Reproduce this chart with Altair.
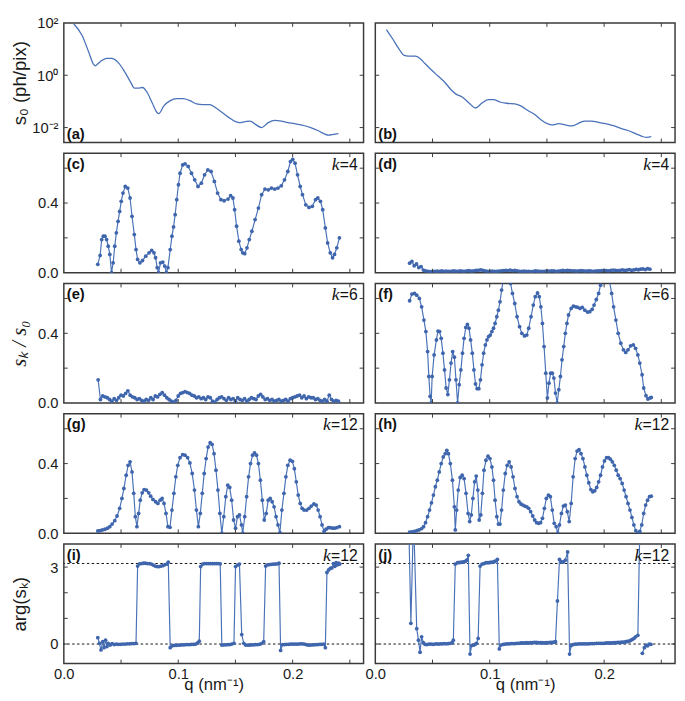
import altair as alt
import pandas as pd

# ---------------- data ----------------
# row 1: s0 (ph/pix), smooth curves
q_a = [0.0088,0.0160,0.0217,0.0260,0.0274,0.0317,0.0374,0.0417,0.0474,0.0531,0.0588,0.0616,0.0645,0.0688,0.0731,0.0773,0.0816,0.0830,0.0873,0.0930,0.0987,0.1045,0.1102,0.1159,0.1216,0.1273,0.1330,0.1387,0.1444,0.1501,0.1535,0.1587,0.1630,0.1672,0.1729,0.1787,0.1844,0.1901,0.1958,0.2015,0.2072,0.2158,0.2215,0.2272,0.2315,0.2357,0.2400]
s0_a = [91,33,7.8,2.6,2.3,3.3,4.4,4.4,3.1,1.38,0.50,0.32,0.32,0.34,0.21,0.087,0.037,0.034,0.066,0.107,0.129,0.129,0.107,0.081,0.076,0.076,0.056,0.037,0.024,0.017,0.0155,0.017,0.0178,0.0135,0.0100,0.0155,0.019,0.0178,0.0155,0.0141,0.0126,0.0100,0.0079,0.0059,0.0051,0.0055,0.0059]

q_b = [0.0097,0.0148,0.0205,0.0248,0.0291,0.0348,0.0391,0.0434,0.0491,0.0548,0.0605,0.0662,0.0705,0.0762,0.0819,0.0876,0.0933,0.0990,0.1033,0.1090,0.1147,0.1219,0.1276,0.1333,0.1390,0.1447,0.1504,0.1547,0.1604,0.1661,0.1718,0.1775,0.1832,0.1889,0.1961,0.2032,0.2089,0.2146,0.2203,0.2275,0.2332,0.2374,0.2412]
s0_b = [56,26,10.5,5.9,5.4,5.4,4.4,2.8,1.58,0.93,0.55,0.28,0.19,0.145,0.087,0.056,0.087,0.117,0.117,0.095,0.085,0.081,0.066,0.045,0.032,0.020,0.0141,0.0126,0.0141,0.0126,0.0115,0.0145,0.0178,0.0178,0.0155,0.0135,0.0115,0.0093,0.0079,0.0059,0.0046,0.0042,0.0045]

# rows 2-4: |s_k| / s0
q_c = [0.0297,0.0317,0.0331,0.0345,0.0360,0.0374,0.0388,0.0402,0.0417,0.0431,
       0.0445,0.0459,0.0474,0.0488,0.0502,0.0517,0.0537,0.0559,0.0579,0.0596,
       0.0616,0.0631,0.0645,0.0665,0.0688,0.0716,0.0745,0.0768,0.0788,0.0802,
       0.0816,0.0828,0.0845,0.0865,0.0882,0.0896,0.0910,0.0930,0.0945,0.0959,
       0.0973,0.0987,0.1002,0.1016,0.1039,0.1059,0.1087,0.1116,0.1144,0.1173,
       0.1202,0.1230,0.1259,0.1287,0.1316,0.1344,0.1373,0.1401,0.1435,0.1458,
       0.1478,0.1493,0.1510,0.1530,0.1550,0.1564,0.1581,0.1601,0.1621,0.1644,
       0.1672,0.1701,0.1729,0.1758,0.1787,0.1815,0.1844,0.1872,0.1901,0.1929,
       0.1958,0.1981,0.2001,0.2021,0.2043,0.2066,0.2086,0.2115,0.2143,0.2172,
       0.2200,0.2220,0.2243,0.2263,0.2286,0.2306,0.2329,0.2349,0.2366,0.2386,
       0.2409]
r_c = [.048,.099,.19,.21,.21,.19,.152,.105,0.0,.057,
       .152,.229,.295,.352,.41,.457,.495,.486,.429,.324,
       .219,.133,.076,.057,.070,.095,.114,.128,.114,.086,
       .029,0.0,.057,.061,.038,0.0,.029,.133,.21,.263,
       .333,.419,.505,.571,.619,.625,.61,.571,.533,.495,
       .514,.562,.59,.581,.524,.457,.419,.413,.423,.442,
       .429,.362,.267,.181,.133,.114,.109,.143,.19,.238,
       .305,.371,.448,.48,.476,.486,.48,.486,.499,.533,
       .581,.638,.651,.629,.562,.495,.448,.39,.375,.381,
       .419,.429,.41,.362,.257,.171,.114,.086,.105,.143,
       .2]

Q_GRID = [0.030,0.032,0.034,0.036,0.038,0.040,0.042,0.044,0.046,0.048,
          0.050,0.052,0.054,0.056,0.058,0.060,0.062,0.064,0.066,0.068,
          0.070,0.072,0.074,0.076,0.078,0.080,0.082,0.084,0.086,0.088,
          0.090,0.092,0.094,0.096,0.098,0.100,0.102,0.104,0.106,0.108,
          0.110,0.112,0.114,0.116,0.118,0.120,0.122,0.124,0.126,0.128,
          0.130,0.132,0.134,0.136,0.138,0.140,0.142,0.144,0.146,0.148,
          0.150,0.152,0.154,0.156,0.158,0.160,0.162,0.164,0.166,0.168,
          0.170,0.172,0.174,0.176,0.178,0.180,0.182,0.184,0.186,0.188,
          0.190,0.192,0.194,0.196,0.198,0.200,0.202,0.204,0.206,0.208,
          0.210,0.212,0.214,0.216,0.218,0.220,0.222,0.224,0.226,0.228,
          0.230,0.232,0.234,0.236,0.238,0.240]
r_d = [.055,.065,.04,.05,.03,.035,.015,.01,.008,.006,
       .008,.007,.009,.008,.01,.008,.009,.007,.008,.01,
       .009,.008,.011,.009,.008,.01,.012,.009,.011,.013,
       .014,.016,.013,.01,.008,.007,.009,.008,.007,.009,
       .011,.012,.014,.012,.015,.011,.013,.01,.008,.007,
       .009,.008,.007,.006,.008,.01,.009,.008,.007,.008,
       .01,.009,.011,.01,.008,.009,.011,.013,.011,.014,
       .012,.01,.011,.009,.01,.012,.01,.009,.011,.01,
       .008,.009,.011,.01,.012,.014,.012,.011,.013,.015,
       .013,.012,.014,.016,.013,.015,.018,.014,.016,.019,
       .017,.02,.022,.018,.024,.02]
r_e = [.133,.02,.04,.035,.03,.02,.01,.025,.015,.03,
       .045,.04,.055,.07,.045,.035,.03,.02,.025,.015,
       .01,.02,.015,.03,.02,.04,.035,.05,.06,.045,
       .03,.02,.01,.005,.015,.04,.055,.06,.065,.06,
       .055,.045,.04,.03,.035,.025,.03,.02,.035,.03,
       .01,.005,.02,.03,.035,.025,.015,.03,.02,.025,
       .01,.03,.02,.015,.025,.01,.02,.03,.025,.02,
       .04,.05,.035,.02,.025,.015,.02,.01,.015,.02,
       .01,.015,.02,.01,.025,.03,.035,.04,.045,.03,
       .04,.025,.035,.03,.03,.02,.025,.015,.01,.02,
       .01,.045,.02,.01,.015,.01]

q_f = [0.0300,0.0320,0.0342,0.0362,0.0385,0.0405,0.0425,0.0442,0.0457,0.0468,
       0.0479,0.0488,0.0497,0.0514,0.0534,0.0548,0.0562,0.0576,0.0591,0.0605,
       0.0619,0.0634,0.0648,0.0662,0.0676,0.0691,0.0705,0.0719,0.0733,0.0748,
       0.0762,0.0776,0.0791,0.0805,0.0819,0.0833,0.0848,0.0862,0.0876,0.0890,
       0.0905,0.0919,0.0933,0.0947,0.0962,0.0976,0.0990,0.1005,0.1019,0.1033,
       0.1047,0.1062,0.1076,0.1090,0.1104,0.1119,0.1139,0.1162,0.1182,0.1199,
       0.1219,0.1239,0.1261,0.1281,0.1304,0.1324,0.1341,0.1361,0.1381,0.1398,
       0.1418,0.1433,0.1447,0.1461,0.1475,0.1490,0.1504,0.1518,0.1533,0.1547,
       0.1561,0.1575,0.1590,0.1604,0.1618,0.1632,0.1647,0.1661,0.1675,0.1689,
       0.1712,0.1732,0.1752,0.1769,0.1789,0.1809,0.1832,0.1855,0.1875,0.1895,
       0.1912,0.1932,0.1952,0.1969,0.1983,0.2003,0.2032,0.2046,0.2066,0.2083,
       0.2103,0.2123,0.2146,0.2169,0.2189,0.2209,0.2232,0.2255,0.2275,0.2295,
       0.2312,0.2332,0.2346,0.2366,0.2383,0.2403,0.2412]
r_f = [.587,.625,.629,.619,.60,.552,.476,.41,.295,.152,
       .038,0.0,.152,.276,.362,.413,.41,.371,.286,.19,
       .086,.048,.133,.229,.295,.263,.133,0.0,.105,.19,
       .286,.371,.434,.451,.429,.362,.286,.19,.109,.082,
       .082,.133,.219,.286,.333,.362,.381,.39,.41,.429,
       .457,.495,.533,.581,.648,.705,.76,.76,.686,.629,
       .571,.495,.438,.40,.385,.39,.429,.495,.562,.61,
       .632,.61,.552,.457,.324,.171,.029,.114,.171,.171,
       .143,.057,0.0,.076,.152,.248,.324,.40,.457,.505,
       .543,.556,.552,.549,.543,.549,.533,.522,.524,.537,
       .562,.594,.629,.676,.714,.76,.752,.705,.629,.552,
       .476,.40,.343,.305,.29,.305,.328,.333,.314,.276,
       .229,.162,.086,.042,.023,.029,.032]

q_g = [0.0297,0.0317,0.0337,0.0360,0.0382,0.0402,0.0422,0.0445,0.0465,0.0488,
       0.0508,0.0525,0.0545,0.0562,0.0579,0.0596,0.0611,0.0625,0.0639,0.0654,
       0.0668,0.0685,0.0702,0.0722,0.0742,0.0759,0.0779,0.0802,0.0822,0.0842,
       0.0859,0.0876,0.0893,0.0910,0.0928,0.0945,0.0962,0.0979,0.0996,0.1016,
       0.1039,0.1059,0.1082,0.1102,0.1122,0.1142,0.1159,0.1176,0.1193,0.1210,
       0.1227,0.1244,0.1261,0.1279,0.1296,0.1313,0.1330,0.1347,0.1364,0.1381,
       0.1398,0.1416,0.1433,0.1450,0.1467,0.1484,0.1501,0.1518,0.1535,0.1553,
       0.1564,0.1581,0.1598,0.1615,0.1632,0.1650,0.1667,0.1684,0.1701,0.1718,
       0.1735,0.1752,0.1769,0.1787,0.1804,0.1821,0.1838,0.1855,0.1872,0.1889,
       0.1906,0.1924,0.1941,0.1958,0.1978,0.1998,0.2015,0.2032,0.2049,0.2066,
       0.2083,0.2100,0.2123,0.2143,0.2163,0.2186,0.2206,0.2223,0.2240,0.2257,
       0.2275,0.2292,0.2312,0.2329,0.2349,0.2366,0.2386,0.2409]
r_g = [.013,.015,.019,.023,.029,.038,.053,.072,.099,.143,
       .20,.257,.333,.39,.41,.352,.229,.095,.038,.114,
       .19,.232,.251,.248,.232,.213,.194,.181,.171,.19,
       .20,.171,.114,.038,.034,.133,.229,.324,.39,.434,
       .451,.448,.434,.404,.343,.248,.133,.038,.114,.229,
       .343,.429,.495,.52,.51,.457,.362,.248,.114,0.0,
       .095,.21,.276,.263,.19,.076,.029,.095,.105,.048,
       0.0,.095,.21,.324,.40,.448,.461,.448,.40,.305,
       .19,.076,.114,.19,.20,.181,.152,.095,.048,.004,
       .133,.229,.324,.39,.419,.413,.371,.295,.219,.171,
       .143,.133,.133,.143,.156,.168,.162,.133,.095,.048,
       .01,.023,.032,.032,.029,.029,.032,.038]

q_h = [0.0300,0.0320,0.0340,0.0362,0.0382,0.0405,0.0422,0.0439,0.0457,0.0474,
       0.0491,0.0508,0.0525,0.0542,0.0559,0.0576,0.0594,0.0611,0.0625,0.0639,
       0.0656,0.0674,0.0691,0.0699,0.0711,0.0725,0.0742,0.0759,0.0776,0.0793,
       0.0811,0.0825,0.0839,0.0853,0.0868,0.0882,0.0896,0.0908,0.0922,0.0936,
       0.0950,0.0967,0.0985,0.1002,0.1019,0.1033,0.1047,0.1062,0.1076,0.1090,
       0.1104,0.1119,0.1136,0.1153,0.1170,0.1187,0.1204,0.1221,0.1239,0.1256,
       0.1273,0.1290,0.1307,0.1324,0.1341,0.1358,0.1376,0.1393,0.1410,0.1427,
       0.1444,0.1461,0.1478,0.1495,0.1513,0.1530,0.1547,0.1564,0.1581,0.1595,
       0.1610,0.1627,0.1644,0.1661,0.1678,0.1695,0.1712,0.1729,0.1747,0.1764,
       0.1781,0.1798,0.1815,0.1832,0.1849,0.1866,0.1884,0.1901,0.1918,0.1935,
       0.1952,0.1969,0.1986,0.2003,0.2021,0.2038,0.2055,0.2072,0.2089,0.2106,
       0.2123,0.2140,0.2158,0.2175,0.2192,0.2209,0.2226,0.2243,0.2260,0.2277,
       0.2295,0.2312,0.2329,0.2346,0.2363,0.2380,0.2397,0.2412]
r_h = [.006,.008,.01,.015,.019,.027,.038,.061,.095,.133,
       .175,.219,.267,.305,.352,.40,.438,.457,.476,.457,
       .40,.305,.152,.019,.133,.248,.32,.333,.314,.229,
       .114,.067,.105,.20,.295,.328,.248,.076,.105,.229,
       .362,.419,.442,.429,.381,.305,.19,.095,.053,.053,
       .133,.248,.343,.39,.41,.381,.324,.257,.21,.181,
       .168,.162,.156,.152,.143,.124,.099,.076,.061,.057,
       .061,.086,.143,.20,.219,.21,.133,.057,.038,0.0,
       .048,.114,.156,.162,.124,.067,.171,.324,.429,.472,
       .48,.457,.429,.381,.333,.29,.251,.238,.244,.263,
       .295,.333,.381,.415,.434,.434,.425,.41,.39,.362,
       .333,.314,.286,.248,.21,.171,.133,.091,.048,.015,
       0.0,.01,.048,.114,.162,.19,.21,.213]

# row 5: arg(s_k)
q_i = [0.0297,0.0311,0.0325,0.0340,0.0351,0.0365,0.0377,0.0388,0.0405,0.0422,
       0.0440,0.0457,0.0474,0.0494,0.0514,0.0534,0.0554,0.0574,0.0594,0.0614,
       0.0631,0.0645,0.0662,0.0679,0.0696,0.0713,0.0731,0.0748,0.0765,0.0782,
       0.0799,0.0816,0.0833,0.0850,0.0868,0.0885,0.0902,0.0913,0.0930,0.0948,
       0.0965,0.0982,0.0999,0.1016,0.1033,0.1050,0.1067,0.1085,0.1102,0.1119,
       0.1136,0.1153,0.1170,0.1184,0.1196,0.1213,0.1230,0.1247,0.1264,0.1281,
       0.1299,0.1316,0.1333,0.1350,0.1367,0.1381,0.1398,0.1416,0.1433,0.1450,
       0.1467,0.1487,0.1501,0.1518,0.1535,0.1555,0.1573,0.1590,0.1607,0.1624,
       0.1641,0.1658,0.1675,0.1692,0.1710,0.1727,0.1747,0.1764,0.1781,0.1798,
       0.1815,0.1832,0.1849,0.1867,0.1881,0.1895,0.1912,0.1929,0.1946,0.1964,
       0.1981,0.1998,0.2015,0.2032,0.2049,0.2066,0.2083,0.2101,0.2118,0.2135,
       0.2152,0.2169,0.2186,0.2203,0.2220,0.2238,0.2255,0.2272,0.2286,0.2300,
       0.2315,0.2329,0.2343,0.2357,0.2369,0.2380,0.2392,0.2403,0.2412]
a_i = [.25,.03,-.23,.09,-.14,.15,-.10,.03,-.04,.02,
       -.02,0.0,-.01,-.01,0.0,0.0,.01,.01,.02,.02,
       .03,3.04,3.13,3.14,3.15,3.15,3.14,3.14,3.12,3.08,
       3.04,3.02,3.02,3.04,3.06,3.10,3.12,3.19,-.14,-.07,
       -.05,-.05,-.04,-.04,-.03,-.03,-.02,-.02,-.02,-.01,
       -.01,0.0,.04,.11,3.02,3.12,3.14,3.14,3.14,3.14,
       3.14,3.14,3.14,3.14,3.13,-.04,-.03,-.03,-.02,-.02,
       0.0,.03,3.02,3.08,3.12,.37,.03,-.04,-.04,-.04,
       -.03,-.03,-.02,-.02,-.01,.02,.09,3.04,3.09,3.10,
       3.11,3.12,3.12,3.13,3.15,-.25,-.02,-.02,-.01,-.01,
       0.0,0.0,0.0,0.0,0.0,.01,.01,0.0,-.02,-.04,
       -.04,-.03,-.03,-.02,-.02,-.01,-.01,0.0,-.14,2.79,
       2.89,2.95,2.97,3.14,3.03,3.17,3.09,3.15,3.12]

q_j = [0.0291,0.0311,0.0334,0.0362,0.0377,0.0391,0.0405,0.0420,0.0434,0.0451,
       0.0468,0.0485,0.0502,0.0519,0.0536,0.0553,0.0570,0.0587,0.0604,0.0621,
       0.0638,0.0655,0.0672,0.0682,0.0699,0.0719,0.0736,0.0753,0.0770,0.0787,
       0.0799,0.0813,0.0828,0.0842,0.0862,0.0875,0.0885,0.0899,0.0916,0.0933,
       0.0950,0.0967,0.0985,0.1002,0.1019,0.1036,0.1047,0.1067,0.1084,0.1099,
       0.1119,0.1136,0.1153,0.1170,0.1187,0.1204,0.1221,0.1238,0.1255,0.1272,
       0.1289,0.1306,0.1323,0.1340,0.1357,0.1374,0.1391,0.1408,0.1425,0.1442,
       0.1459,0.1476,0.1493,0.1510,0.1527,0.1544,0.1561,0.1575,0.1592,0.1610,
       0.1627,0.1644,0.1661,0.1681,0.1698,0.1712,0.1729,0.1746,0.1763,0.1780,
       0.1797,0.1814,0.1831,0.1848,0.1865,0.1882,0.1899,0.1916,0.1933,0.1950,
       0.1967,0.1984,0.2001,0.2018,0.2035,0.2052,0.2069,0.2086,0.2103,0.2120,
       0.2137,0.2154,0.2171,0.2189,0.2203,0.2217,0.2232,0.2246,0.2261,0.2275,
       0.2295,0.2312,0.2334,0.2352,0.2366,0.2380,0.2394,0.2409]
a_j = [5.0,0.81,5.0,0.60,0.15,-0.32,0.28,0.05,-0.01,-0.02,
       0.0,0.0,-0.01,0.0,0.01,0.0,0.01,0.01,0.02,0.01,
       0.02,0.03,0.05,0.15,3.12,3.17,3.18,3.19,3.20,3.22,
       3.27,3.46,-0.39,-0.06,-0.04,0.0,0.03,0.22,3.04,3.12,
       3.14,3.17,3.17,3.18,3.19,3.20,3.23,3.30,-0.19,-0.04,
       -0.01,0.0,0.01,0.01,0.02,0.02,0.02,0.03,0.03,0.04,
       0.04,0.04,0.05,0.04,0.05,0.05,0.06,0.06,0.05,0.05,
       0.05,0.04,0.05,0.05,0.06,0.06,0.07,0.09,1.68,3.30,
       3.20,3.20,3.27,3.59,-0.39,-0.06,-0.02,0.0,0.0,0.01,
       0.01,0.01,0.01,0.01,0.01,0.02,0.02,0.02,0.03,0.03,
       0.03,0.03,0.03,0.04,0.04,0.04,0.04,0.05,0.05,0.06,
       0.06,0.07,0.07,0.09,0.10,0.11,0.14,0.18,0.22,0.28,
       0.34,4.5,-0.36,-0.14,-0.04,-0.07,0.0,-0.01]
J_BREAK = 0.232   # the last few points of (j) are not joined to the rest

# axes / ticks / labels
X_TICKS = [0.05, 0.10, 0.15, 0.20, 0.25]
X_LABELS = [0.0, 0.1, 0.2]
RATIO_TICKS = [0.2, 0.4, 0.6]
RATIO_LABELS = [0.0, 0.4]
ARG_TICKS = [0, 1, 2, 3]
ARG_LABELS = [0, 3]
ARG_REF = [0.0, 3.14159]
LOG_TICKS = [0.01, 1.0]
LOG_LABELS = [0.01, 1.0, 100.0]
TAGS = ["(a)", "(b)", "(c)", "(d)", "(e)", "(f)", "(g)", "(h)", "(i)", "(j)"]
K_VALUES = [None, None, "4", "4", "6", "6", "12", "12", "12", "12"]

# ---------------- style ----------------
W, H = 306, 122
BLUE = "#4a72b8"
DOT = "#3f66ad"
FRAME = "#3a3a3a"
FONT = "Liberation Sans"
SERIF = "Liberation Serif"

x_scale = alt.Scale(domain=[0, 0.262], nice=False, zero=False)
ratio_scale = alt.Scale(domain=[0, 0.686], nice=False, zero=False)
arg_scale = alt.Scale(domain=[-0.76, 3.9], nice=False, zero=False)
log_scale = alt.Scale(type="log", domain=[0.0027, 100], nice=False)


def frame(q, v, seg=None):
    return pd.DataFrame({"q": q, "v": v, "seg": seg if seg is not None else [0] * len(q)})


def left_axis(values, fmt=None, expr=None, title=None, serif=False):
    kw = dict(values=values, labelPadding=6)
    if fmt:
        kw["format"] = fmt
    if expr:
        kw["labelExpr"] = expr
    if title:
        kw.update(title=title, titleX=-35, titleFontSize=19)
        if serif:
            kw.update(titleFont=SERIF, titleFontStyle="italic", titleFontSize=21)
    else:
        kw["title"] = None
    return alt.Axis(**kw)


bottom_axis = alt.Axis(values=X_LABELS, format=".1f", labelPadding=3, labelFlush=False,
                       title="q (nm⁻¹)", titleY=14, titleFontSize=17)


def panel(df, kind, yscale, yaxis, xaxis, yticks, idx, ref=None):
    X = alt.X("q:Q", scale=x_scale, axis=xaxis)
    Y = alt.Y("v:Q", scale=yscale, axis=yaxis)
    layers = []
    if ref is not None:
        layers.append(alt.Chart(pd.DataFrame({"v": ref})).mark_rule(
            color="#111111", strokeDash=[2.5, 2.5], strokeWidth=1).encode(y=Y))
    if kind == "smooth":
        layers.append(alt.Chart(df).mark_line(color=BLUE, strokeWidth=1.3, interpolate="monotone",
                                              clip=True).encode(x=X, y=Y))
    else:
        layers.append(alt.Chart(df).mark_line(color=BLUE, strokeWidth=1.2, clip=True).encode(
            x=X, y=Y, detail="seg:N"))
        layers.append(alt.Chart(df).mark_circle(size=15, color=DOT, opacity=1, clip=True).encode(x=X, y=Y))
    xt = pd.DataFrame({"q": X_TICKS})
    for y0, y1 in [(0, 4), (H, H - 4)]:
        layers.append(alt.Chart(xt).mark_rule(color=FRAME, strokeWidth=1).encode(
            x=X, y=alt.value(y0), y2=alt.value(y1)))
    yt = pd.DataFrame({"v": yticks})
    for x0, x1 in [(0, 4), (W, W - 4)]:
        layers.append(alt.Chart(yt).mark_rule(color=FRAME, strokeWidth=1).encode(
            y=Y, x=alt.value(x0), x2=alt.value(x1)))
    tag = TAGS[idx]
    bottom = idx < 2
    layers.append(alt.Chart(pd.DataFrame({"label": [tag]})).mark_text(
        align="left", baseline="bottom" if bottom else "top", font=FONT, fontSize=15,
        fontWeight="bold", color="#111111").encode(
        x=alt.value(3), y=alt.value(H - 1 if bottom else 4), text="label:N"))
    kval = K_VALUES[idx]
    if kval:
        rest = "=" + kval
        kw = 18.5 if len(kval) == 1 else 27.5
        layers.append(alt.Chart(pd.DataFrame({"label": ["k"]})).mark_text(
            align="right", baseline="top", font=SERIF, fontStyle="italic", fontSize=18,
            color="#111111").encode(x=alt.value(W - 6 - kw), y=alt.value(3), text="label:N"))
        layers.append(alt.Chart(pd.DataFrame({"label": [rest]})).mark_text(
            align="right", baseline="top", font=FONT, fontSize=16, color="#111111").encode(
            x=alt.value(W - 6), y=alt.value(4), text="label:N"))
    return alt.layer(*layers).properties(width=W, height=H)


log_expr = "datum.value >= 50 ? '10²' : (datum.value >= 0.5 ? '10⁰' : '10⁻²')"
seg_j = [0 if q < J_BREAK else 1 for q in q_j]

panels = [
    panel(frame(q_a, s0_a), "smooth", log_scale,
          left_axis(LOG_LABELS, expr=log_expr, title="s₀  (ph/pix)"), None, LOG_TICKS, 0),
    panel(frame(q_b, s0_b), "smooth", log_scale, None, None, LOG_TICKS, 1),
    panel(frame(q_c, r_c), "pts", ratio_scale, left_axis(RATIO_LABELS, fmt=".1f"), None, RATIO_TICKS, 2),
    panel(frame(Q_GRID, r_d), "pts", ratio_scale, None, None, RATIO_TICKS, 3),
    panel(frame(Q_GRID, r_e), "pts", ratio_scale,
          left_axis(RATIO_LABELS, fmt=".1f", title="sₖ / s₀", serif=True), None, RATIO_TICKS, 4),
    panel(frame(q_f, r_f), "pts", ratio_scale, None, None, RATIO_TICKS, 5),
    panel(frame(q_g, r_g), "pts", ratio_scale, left_axis(RATIO_LABELS, fmt=".1f"), None, RATIO_TICKS, 6),
    panel(frame(q_h, r_h), "pts", ratio_scale, None, None, RATIO_TICKS, 7),
    panel(frame(q_i, a_i), "pts", arg_scale, left_axis(ARG_LABELS, fmt="d", title="arg(sₖ)"),
          bottom_axis, ARG_TICKS, 8, ref=ARG_REF),
    panel(frame(q_j, a_j, seg_j), "pts", arg_scale, None, bottom_axis, ARG_TICKS, 9, ref=ARG_REF),
]

chart = alt.concat(*panels, columns=2, spacing={"row": 11, "column": 12}, bounds="flush").properties(
    padding={"left": 0, "top": 0, "right": 0, "bottom": 0}
).configure_view(
    stroke=FRAME, strokeWidth=1.5
).configure_axis(
    grid=False, domain=False, ticks=False, labelFont=FONT, labelFontSize=15,
    labelColor="#1a1a1a", titleFont=FONT, titleFontWeight="normal", titleColor="#1a1a1a"
)

chart.save("out.html", embed_options={"renderer": "svg", "actions": False})
